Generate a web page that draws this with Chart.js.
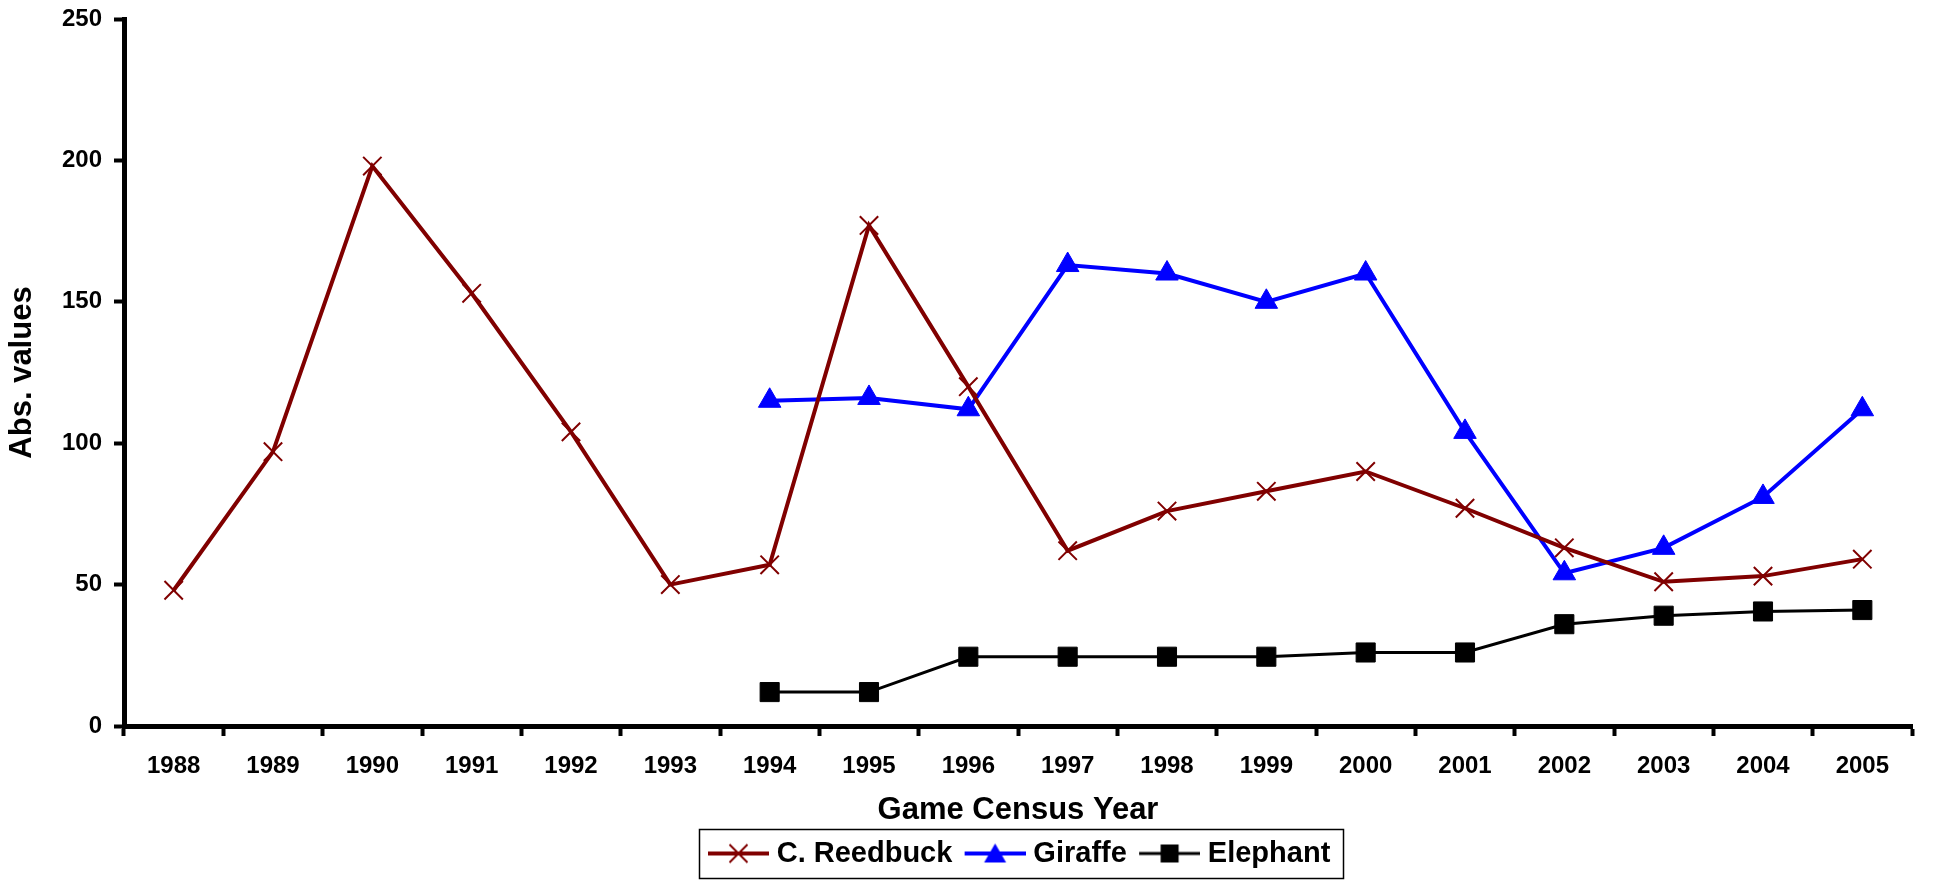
<!DOCTYPE html>
<html>
<head>
<meta charset="utf-8">
<script src="https://cdn.jsdelivr.net/npm/chart.js@4.4.1/dist/chart.umd.min.js"></script>
<style>
  html, body { margin: 0; padding: 0; background: #fff; }
  #wrap { width: 1936px; height: 880px; }
</style>
</head>
<body>
<div id="wrap"><canvas id="chart" width="1936" height="880"></canvas></div>
<script>
// game census counts
const years = ['1988', '1989', '1990', '1991', '1992', '1993', '1994', '1995', '1996',
  '1997', '1998', '1999', '2000', '2001', '2002', '2003', '2004', '2005'];
const reedbuck = [48, 97, 198, 153, 104, 50, 57, 177, 120, 62, 76, 83, 90, 77, 63, 51, 53, 59];
const giraffe = [null, null, null, null, null, null, 115, 116, 112, 163, 160, 150, 160, 104, 54, 63, 81, 112];
const elephant = [null, null, null, null, null, null, 12, 12, 24.5, 24.5, 24.5, 24.5, 26, 26, 36, 39, 40.5, 41];
const yTicks = [0, 50, 100, 150, 200, 250];

const FONT = '"Liberation Sans", Arial, sans-serif';

// legend swatch: line with marker in the middle (Excel style)
// image is 70 wide, the visible part sits at 9..70
function swatch(color, lineW, shape) {
  const c = document.createElement('canvas');
  c.width = 70; c.height = 30;
  const g = c.getContext('2d');
  g.strokeStyle = color; g.fillStyle = color;
  g.lineWidth = lineW;
  g.beginPath(); g.moveTo(9, 15); g.lineTo(70, 15); g.stroke();
  const cx = 39.5;
  if (shape === 'cross') {
    g.lineWidth = 2;
    g.beginPath();
    g.moveTo(cx - 9, 6); g.lineTo(cx + 9, 24);
    g.moveTo(cx + 9, 6); g.lineTo(cx - 9, 24);
    g.stroke();
  } else if (shape === 'triangle') {
    g.beginPath();
    g.moveTo(cx, 5); g.lineTo(cx + 11, 24); g.lineTo(cx - 11, 24);
    g.closePath(); g.fill();
  } else {
    g.fillRect(cx - 9, 6, 18, 18);
  }
  return c;
}

const legendBorder = {
  id: 'legendBorder',
  afterDraw(chart) {
    const boxes = chart.legend && chart.legend.legendHitBoxes;
    if (!boxes || !boxes.length) return;
    const first = boxes[0];
    const last = boxes[boxes.length - 1];
    const l = first.left - 7;
    const r = last.left + last.width + 12;
    const cy = first.top + first.height / 2;
    const ctx = chart.ctx;
    ctx.save();
    ctx.strokeStyle = '#000';
    ctx.lineWidth = 1.5;
    ctx.strokeRect(Math.round(l) + 0.5, Math.round(cy - 24.5) + 0.5, Math.round(r - l), 49);
    ctx.restore();
  }
};

const ctx = document.getElementById('chart').getContext('2d');
const chart = new Chart(ctx, {
  type: 'line',
  data: {
    labels: years,
    datasets: [{
      label: 'C. Reedbuck',
      data: reedbuck,
      borderColor: '#800000',
      backgroundColor: '#800000',
      borderWidth: 4,
      pointStyle: 'crossRot',
      pointRadius: 13,
      pointBorderWidth: 2,
      pointBorderColor: '#800000',
      legendSwatch: swatch('#800000', 4, 'cross')
    }, {
      label: 'Giraffe',
      data: giraffe,
      borderColor: '#0000ff',
      backgroundColor: '#0000ff',
      borderWidth: 4,
      pointStyle: 'triangle',
      pointRadius: 13,
      pointBorderWidth: 1,
      legendSwatch: swatch('#0000ff', 4, 'triangle')
    }, {
      label: 'Elephant',
      data: elephant,
      borderColor: '#000000',
      backgroundColor: '#000000',
      borderWidth: 3,
      pointStyle: 'rect',
      pointRadius: 13.5,
      pointBorderWidth: 1,
      legendSwatch: swatch('#000000', 3, 'square')
    }]
  },
  options: {
    responsive: false,
    animation: false,
    layout: { padding: { left: 0, right: 24, top: 19, bottom: 2 } },
    plugins: {
      tooltip: { enabled: false },
      legend: {
        position: 'bottom',
        fullSize: false,
        labels: {
          color: '#000',
          font: { family: FONT, size: 29, weight: 'bold' },
          usePointStyle: true,
          pointStyleWidth: 56.5,
          padding: 10,
          generateLabels(chart) {
            return chart.data.datasets.map((ds, i) => ({
              text: ds.label,
              pointStyle: ds.legendSwatch,
              fillStyle: ds.borderColor,
              strokeStyle: ds.borderColor,
              lineWidth: 0,
              fontColor: '#000',
              datasetIndex: i
            }));
          }
        }
      }
    },
    scales: {
      x: {
        offset: true,
        grid: {
          offset: true,
          drawOnChartArea: false,
          drawTicks: true,
          tickLength: 10,
          tickWidth: 4,
          color: '#000'
        },
        border: { display: true, color: '#000', width: 5 },
        ticks: {
          color: '#000',
          autoSkip: false,
          maxRotation: 0,
          padding: 16,
          font: { family: FONT, size: 24, weight: 'bold' }
        },
        title: {
          display: true,
          text: 'Game Census Year',
          color: '#000',
          padding: { top: 0, bottom: 0 },
          font: { family: FONT, size: 31, weight: 'bold' }
        },
        afterFit(scale) { scale.height = 103; }
      },
      y: {
        min: 0,
        max: 250,
        afterBuildTicks(scale) { scale.ticks = yTicks.map(v => ({ value: v })); },
        grid: {
          drawOnChartArea: false,
          drawTicks: true,
          tickLength: 10,
          tickWidth: 4,
          color: '#000'
        },
        border: { display: true, color: '#000', width: 5 },
        ticks: {
          color: '#000',
          padding: 12,
          font: { family: FONT, size: 24, weight: 'bold' }
        },
        title: {
          display: true,
          text: 'Abs. values',
          color: '#000',
          padding: { top: 4, bottom: 0 },
          font: { family: FONT, size: 31, weight: 'bold' }
        },
        afterFit(scale) {
          scale.width = 124;
          scale.paddingTop = 0;
          scale.paddingBottom = 0;
        }
      }
    }
  },
  plugins: [legendBorder]
});
</script>
</body>
</html>
